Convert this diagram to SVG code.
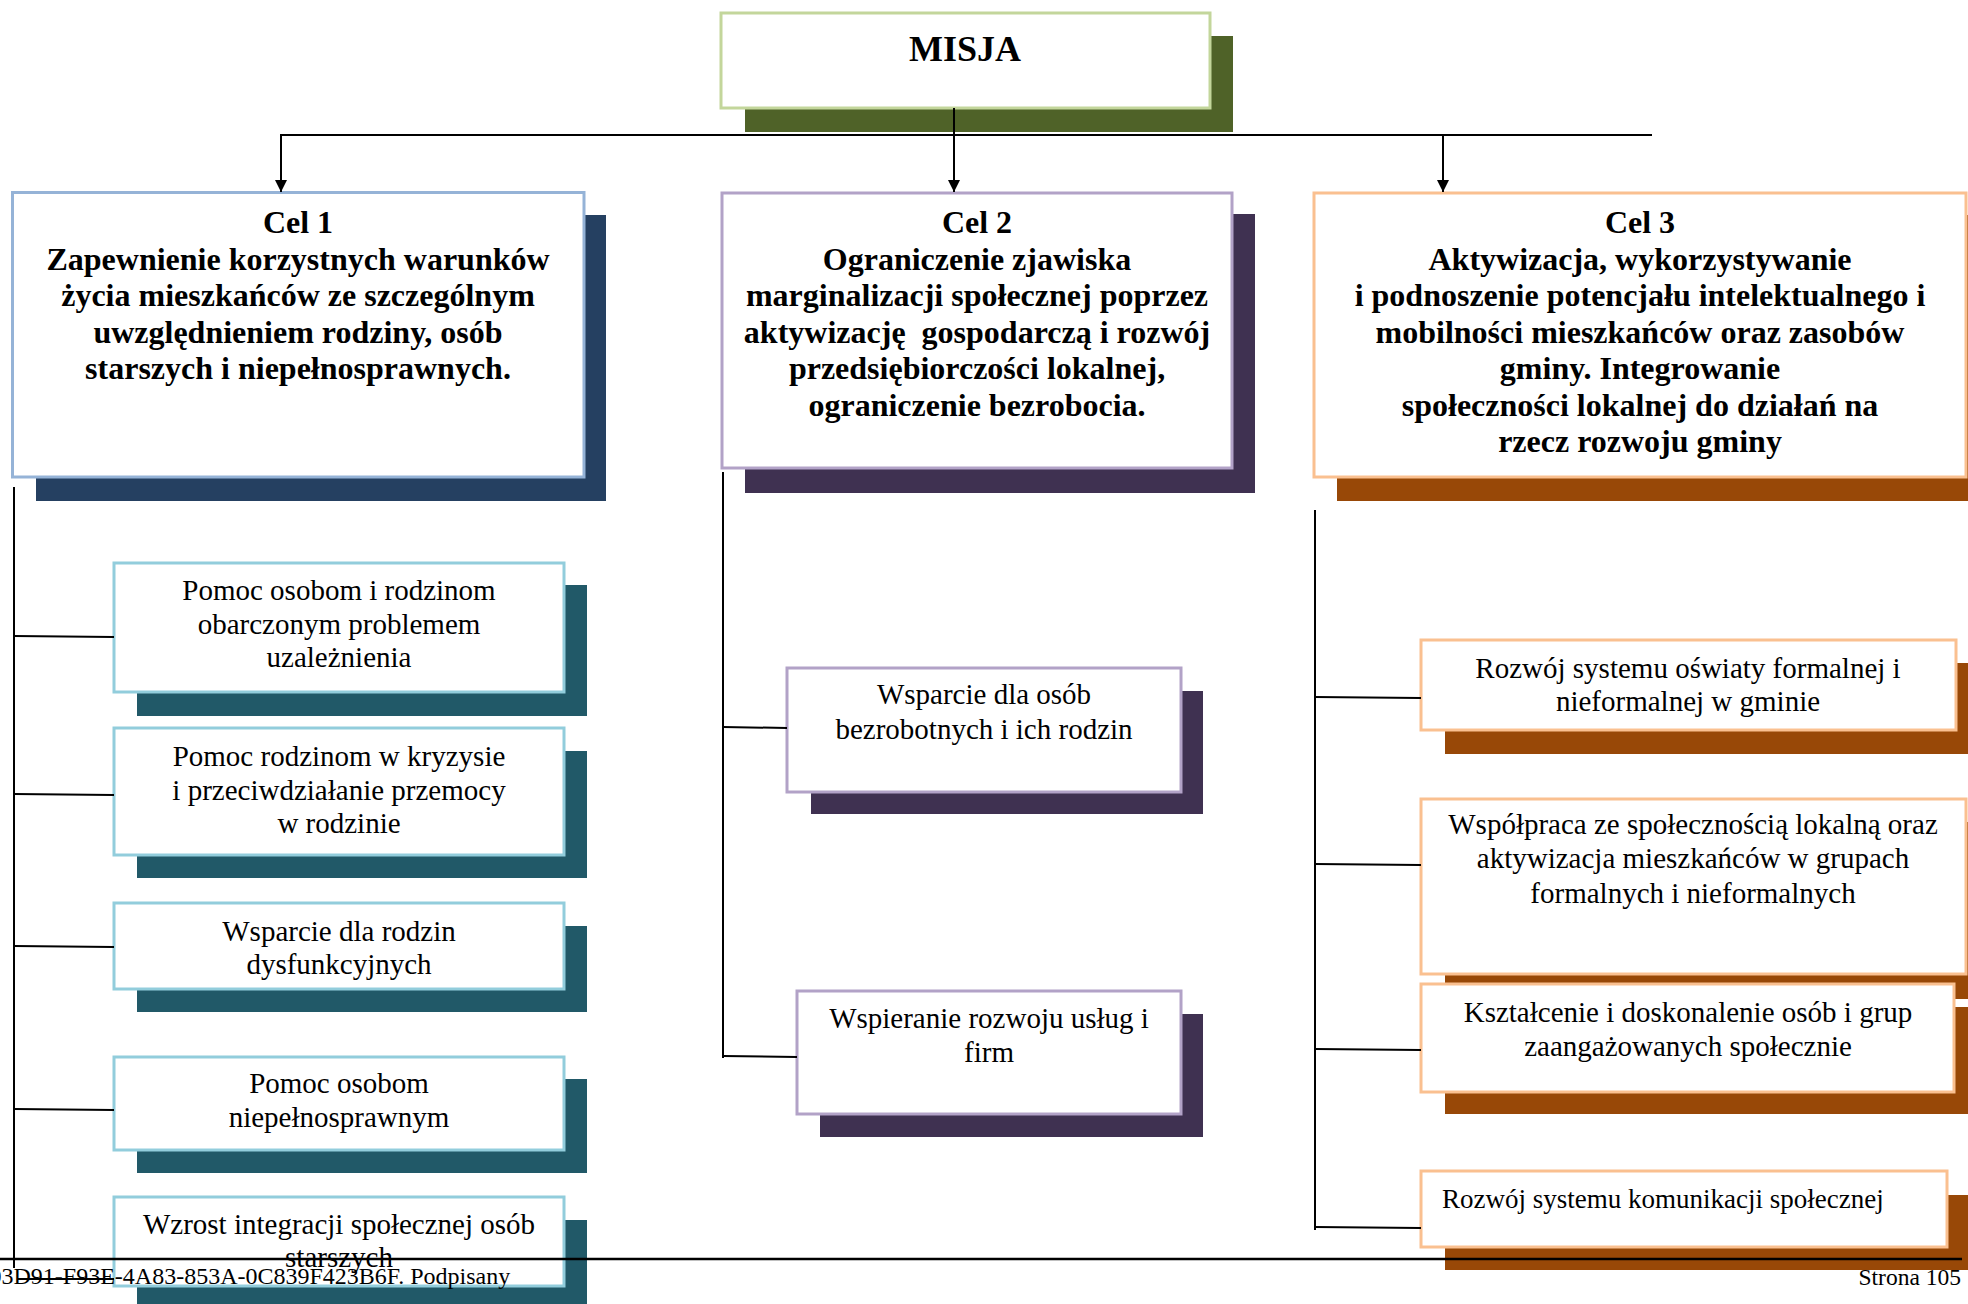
<svg xmlns="http://www.w3.org/2000/svg" width="1968" height="1304" viewBox="0 0 1968 1304">
<defs>
<style>
.bg{fill:#ffffff}
.box{fill:#ffffff;stroke-width:3}
.b-m{stroke:#C3D69B}.s-m{fill:#4F6228}
.b-c1{stroke:#95B3D7}.s-c1{fill:#254061}
.b-c2{stroke:#B2A2C7}.s-c2{fill:#3F3151}
.b-c3{stroke:#FAC090}.s-c3{fill:#984807}
.b-l{stroke:#92CDDC}.s-l{fill:#215968}
.t-b{font-family:"Liberation Serif","Times New Roman",serif;font-weight:bold;font-size:32px;fill:#000;text-anchor:middle}
.t-r{font-family:"Liberation Serif","Times New Roman",serif;font-size:29px;fill:#000;text-anchor:middle}
.t-f{font-family:"Liberation Serif","Times New Roman",serif;font-size:24px;fill:#000}
.ln{stroke:#000;stroke-width:2;fill:none}
</style>
<marker id="arr" viewBox="0 0 10 10" refX="10" refY="5" markerWidth="12" markerHeight="14" markerUnits="userSpaceOnUse" orient="auto">
<path d="M0,0 L10,5 L0,10 z" fill="#000"/>
</marker>
</defs>
<rect class="bg" x="0" y="0" width="1968" height="1304"/>

<g id="misja">
<rect class="s-m" x="745" y="36" width="488" height="96"/>
<rect class="box b-m" x="721" y="13" width="489" height="95"/>
<text class="t-b" x="965" y="61" style="font-size:36px">MISJA</text>
</g>

<g id="cel1">
<rect class="s-c1" x="36" y="215" width="570" height="286"/>
<rect class="box b-c1" x="12.5" y="192.5" width="571.5" height="284.5"/>
<text class="t-b"><tspan x="298" y="233">Cel 1</tspan><tspan x="298" y="269.5">Zapewnienie korzystnych warunków</tspan><tspan x="298" y="306">życia mieszkańców ze szczególnym</tspan><tspan x="298" y="342.5">uwzględnieniem rodziny, osób</tspan><tspan x="298" y="379">starszych i niepełnosprawnych.</tspan></text>
</g>

<g id="cel2">
<rect class="s-c2" x="745" y="214" width="510" height="279"/>
<rect class="box b-c2" x="722" y="193" width="510" height="275"/>
<text class="t-b" xml:space="preserve"><tspan x="977" y="233">Cel 2</tspan><tspan x="977" y="269.5">Ograniczenie zjawiska</tspan><tspan x="977" y="306">marginalizacji społecznej poprzez</tspan><tspan x="977" y="342.5">aktywizację  gospodarczą i rozwój</tspan><tspan x="977" y="379">przedsiębiorczości lokalnej,</tspan><tspan x="977" y="415.5">ograniczenie bezrobocia.</tspan></text>
</g>

<g id="cel3">
<rect class="s-c3" x="1337" y="215" width="660" height="286"/>
<rect class="box b-c3" x="1314" y="193" width="652" height="284"/>
<text class="t-b"><tspan x="1640" y="233">Cel 3</tspan><tspan x="1640" y="269.5">Aktywizacja, wykorzystywanie</tspan><tspan x="1640" y="306">i podnoszenie potencjału intelektualnego i</tspan><tspan x="1640" y="342.5">mobilności mieszkańców oraz zasobów</tspan><tspan x="1640" y="379">gminy. Integrowanie</tspan><tspan x="1640" y="415.5">społeczności lokalnej do działań na</tspan><tspan x="1640" y="452">rzecz rozwoju gminy</tspan></text>
</g>

<g id="l1">
<rect class="s-l" x="137" y="585" width="450" height="131"/>
<rect class="box b-l" x="114" y="563" width="450" height="129"/>
<text class="t-r"><tspan x="339" y="600">Pomoc osobom i rodzinom</tspan><tspan x="339" y="633.5">obarczonym problemem</tspan><tspan x="339" y="667">uzależnienia</tspan></text>
</g>
<g id="l2">
<rect class="s-l" x="137" y="751" width="450" height="127"/>
<rect class="box b-l" x="114" y="728" width="450" height="127"/>
<text class="t-r"><tspan x="339" y="766">Pomoc rodzinom w kryzysie</tspan><tspan x="339" y="799.5">i przeciwdziałanie przemocy</tspan><tspan x="339" y="833">w rodzinie</tspan></text>
</g>
<g id="l3">
<rect class="s-l" x="137" y="926" width="450" height="86"/>
<rect class="box b-l" x="114" y="903" width="450" height="86"/>
<text class="t-r"><tspan x="339" y="941">Wsparcie dla rodzin</tspan><tspan x="339" y="974">dysfunkcyjnych</tspan></text>
</g>
<g id="l4">
<rect class="s-l" x="137" y="1079" width="450" height="94"/>
<rect class="box b-l" x="114" y="1057" width="450" height="93"/>
<text class="t-r"><tspan x="339" y="1093">Pomoc osobom</tspan><tspan x="339" y="1127">niepełnosprawnym</tspan></text>
</g>
<g id="l5">
<rect class="s-l" x="137" y="1220" width="450" height="90"/>
<rect class="box b-l" x="114" y="1197" width="450" height="89"/>
<text class="t-r"><tspan x="339" y="1234">Wzrost integracji społecznej osób</tspan><tspan x="339" y="1267">starszych</tspan></text>
</g>

<g id="m1">
<rect class="s-c2" x="811" y="691" width="392" height="123"/>
<rect class="box b-c2" x="787" y="668" width="394" height="124"/>
<text class="t-r"><tspan x="984" y="704">Wsparcie dla osób</tspan><tspan x="984" y="739">bezrobotnych i ich rodzin</tspan></text>
</g>
<g id="m2">
<rect class="s-c2" x="820" y="1014" width="383" height="123"/>
<rect class="box b-c2" x="797" y="991" width="384" height="123"/>
<text class="t-r"><tspan x="989" y="1028">Wspieranie rozwoju usług i</tspan><tspan x="989" y="1062">firm</tspan></text>
</g>

<g id="r1">
<rect class="s-c3" x="1445" y="663" width="545" height="91"/>
<rect class="box b-c3" x="1421" y="640" width="535" height="90"/>
<text class="t-r"><tspan x="1688" y="678">Rozwój systemu oświaty formalnej i</tspan><tspan x="1688" y="711">nieformalnej w gminie</tspan></text>
</g>
<g id="r2">
<rect class="s-c3" x="1445" y="822" width="545" height="177"/>
<rect class="box b-c3" x="1421" y="799" width="545" height="175"/>
<text class="t-r"><tspan x="1693" y="834">Współpraca ze społecznością lokalną oraz</tspan><tspan x="1693" y="868">aktywizacja mieszkańców w grupach</tspan><tspan x="1693" y="903">formalnych i nieformalnych</tspan></text>
</g>
<g id="r3">
<rect class="s-c3" x="1445" y="1007" width="545" height="107"/>
<rect class="box b-c3" x="1421" y="984" width="533" height="108"/>
<text class="t-r"><tspan x="1688" y="1022">Kształcenie i doskonalenie osób i grup</tspan><tspan x="1688" y="1056">zaangażowanych społecznie</tspan></text>
</g>
<g id="r4">
<rect class="s-c3" x="1445" y="1195" width="545" height="75"/>
<rect class="box b-c3" x="1421" y="1171" width="526" height="76"/>
<text class="t-r" style="text-anchor:start;font-size:27px" x="1442" y="1208">Rozwój systemu komunikacji społecznej</text>
</g>

<g id="connectors">
<line class="ln" x1="280" y1="135" x2="1652" y2="135"/>
<line class="ln" x1="954" y1="108" x2="954" y2="192" marker-end="url(#arr)"/>
<line class="ln" x1="281" y1="135" x2="281" y2="192" marker-end="url(#arr)"/>
<line class="ln" x1="1443" y1="135" x2="1443" y2="192" marker-end="url(#arr)"/>
<line class="ln" x1="14" y1="487" x2="14" y2="1268"/>
<line class="ln" x1="14" y1="636" x2="114" y2="637"/>
<line class="ln" x1="14" y1="794" x2="114" y2="795"/>
<line class="ln" x1="14" y1="946" x2="114" y2="947"/>
<line class="ln" x1="14" y1="1109" x2="114" y2="1110"/>
<line class="ln" x1="17" y1="1279" x2="114" y2="1279"/>
<line class="ln" x1="723" y1="472" x2="723" y2="1058"/>
<line class="ln" x1="723" y1="727" x2="787" y2="728"/>
<line class="ln" x1="723" y1="1056" x2="797" y2="1057"/>
<line class="ln" x1="1315" y1="510" x2="1315" y2="1230"/>
<line class="ln" x1="1315" y1="697" x2="1421" y2="698"/>
<line class="ln" x1="1315" y1="864" x2="1421" y2="865"/>
<line class="ln" x1="1315" y1="1049" x2="1421" y2="1050"/>
<line class="ln" x1="1315" y1="1227" x2="1421" y2="1228"/>
</g>

<g id="footer">
<line x1="0" y1="1259" x2="1962" y2="1259" stroke="#000" stroke-width="2.5"/>
<text class="t-f" x="-10.5" y="1284">03D91-F93E-4A83-853A-0C839F423B6F. Podpisany</text>
<text class="t-f" x="1961" y="1285" style="text-anchor:end;font-size:23.5px">Strona 105</text>
</g>
</svg>
